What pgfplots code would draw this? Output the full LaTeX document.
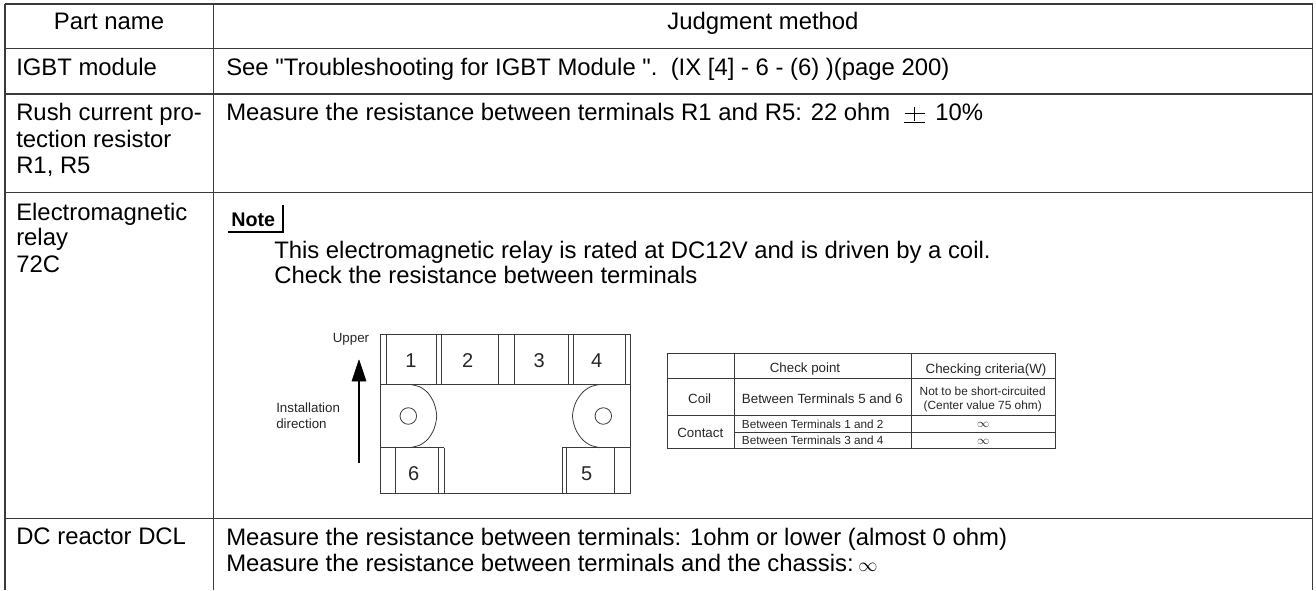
\documentclass[border=0pt]{standalone}
\usepackage{pgfplots}
\pgfplotsset{compat=1.18}
\usepackage{fontspec}
\setmainfont{Liberation Sans}
\newfontfamily\qf{Liberation Sans}
\definecolor{ln}{HTML}{3A3A3A}
\newcommand{\fs}[1]{\fontsize{#1}{#1}\selectfont}
\tikzset{
  txt/.style={anchor=base west,inner sep=0pt,text=black,font=\fs{17.9}},
  dtxt/.style={anchor=base west,inner sep=0pt,text=black!85,font=\fs{10}},
}
\pgfplotsset{
  table line/.style={no markers,draw=ln,line width=1.05pt,forget plot},
  sk/.style={no markers,draw=ln,line width=0.6pt,forget plot},
}
\begin{document}
\begin{tikzpicture}[x=1pt,y=1pt]
\path[use as bounding box] (0,0) rectangle (987pt,442.5pt);
\begin{axis}[
  at={(0,0)},anchor=south west,
  width=987pt,height=442.5pt,scale only axis,
  xmin=0,xmax=1316,ymin=0,ymax=590,y dir=reverse,
  axis lines=none,clip=true,
]
% main grid
\addplot[table line] coordinates {(5,4) (1312.5,4)};
\addplot[table line] coordinates {(5,48.5) (1312.5,48.5)};
\addplot[table line] coordinates {(5,94) (1312.5,94)};
\addplot[table line] coordinates {(5,192.5) (1312.5,192.5)};
\addplot[table line] coordinates {(5,518.5) (1312.5,518.5)};
\addplot[table line] coordinates {(5,4) (5,590)};
\addplot[table line] coordinates {(213.5,4) (213.5,590)};
\addplot[table line] coordinates {(1312.5,4) (1312.5,590)};
% left column
\node[txt,anchor=base] at (axis cs:109,29.3) {Part name};
\node[txt,anchor=base] at (axis cs:763,29.3) {Judgment method};
\node[txt] at (axis cs:16,75) {IGBT module};
\node[txt] at (axis cs:16,120.7) {Rush current pro-};
\node[txt] at (axis cs:16,147.5) {tection resistor};
\node[txt] at (axis cs:16,173.7) {R1, R5};
\node[txt] at (axis cs:16,220) {Electromagnetic};
\node[txt] at (axis cs:16,245.5) {relay};
\node[txt] at (axis cs:16,272) {72C};
\node[txt] at (axis cs:16,544.5) {DC reactor DCL};
% right column
\node[txt] at (axis cs:226,75.5) {See {\qf"}Troubleshooting for IGBT Module {\qf"}.\ \ (IX [4] - 6 - (6) )(page 200)};
\node[txt] at (axis cs:226,120.7) {Measure the resistance between terminals R1 and R5: 22 ohm};
\node[txt] at (axis cs:935,120.7) {10\%};
\addplot[no markers,draw=black,line width=0.8pt,forget plot] coordinates {(904.5,113.3) (925,113.3)};
\addplot[no markers,draw=black,line width=0.8pt,forget plot] coordinates {(914.7,106.5) (914.7,120.5)};
\addplot[no markers,draw=black,line width=0.9pt,forget plot] coordinates {(904,122.7) (925,122.7)};
\node[txt] at (axis cs:274,258.3) {This electromagnetic relay is rated at DC12V and is driven by a coil.};
\node[txt] at (axis cs:274,283.3) {Check the resistance between terminals};
\node[txt] at (axis cs:226,545) {Measure the resistance between terminals: 1ohm or lower (almost 0 ohm)};
\node[txt] at (axis cs:226,571.5) {Measure the resistance between terminals and the chassis:};
\node[txt,font=\fs{14}] at (axis cs:858,571) {$\infty$};
% Note
\node[txt,font=\bfseries\fs{14.8}] at (axis cs:231,226.5) {Note};
\addplot[no markers,draw=black,line width=1.4pt,forget plot] coordinates {(228,232) (283,232) (283,205)};
% relay drawing
\addplot[sk] coordinates {(380,334) (630,334) (630,493.7) (380,493.7) (380,334)};
\addplot[sk] coordinates {(380,384.3) (630,384.3)};
\addplot[sk] coordinates {(380,447.7) (444.3,447.7)};
\addplot[sk] coordinates {(562.3,447.7) (630,447.7)};
\addplot[sk] coordinates {(386,334) (386,384.3)};
\addplot[sk] coordinates {(436.7,334) (436.7,384.3)};
\addplot[sk] coordinates {(441.7,334) (441.7,384.3)};
\addplot[sk] coordinates {(498.3,334) (498.3,384.3)};
\addplot[sk] coordinates {(514.3,334) (514.3,384.3)};
\addplot[sk] coordinates {(568.3,334) (568.3,384.3)};
\addplot[sk] coordinates {(573.3,334) (573.3,384.3)};
\addplot[sk] coordinates {(625.7,334) (625.7,384.3)};
\addplot[sk] coordinates {(395,447.7) (395,493.7)};
\addplot[sk] coordinates {(438.3,447.7) (438.3,493.7)};
\addplot[sk] coordinates {(444.3,447.7) (444.3,493.7)};
\addplot[sk] coordinates {(562.3,447.7) (562.3,493.7)};
\addplot[sk] coordinates {(566.3,447.7) (566.3,493.7)};
\addplot[sk] coordinates {(614.3,447.7) (614.3,493.7)};
\addplot[sk,smooth] coordinates {(410,384.3) (420,387) (428,393) (434,403) (436.7,416) (434,429) (428,439) (420,445) (410,447.7)};
\addplot[sk,smooth] coordinates {(600,384.3) (590,387) (582,393) (575.5,403) (572.5,416) (575.5,429) (582,439) (590,445) (600,447.7)};
\draw[ln,line width=0.6pt] (axis cs:408.3,416) circle[radius=6.2pt];
\draw[ln,line width=0.6pt] (axis cs:603.3,416) circle[radius=6.2pt];
\addplot[no markers,draw=black,line width=0.8pt,forget plot] coordinates {(359,463) (359,378)};
\addplot[no markers,draw=black,fill=black,forget plot] coordinates {(359,360) (366,381) (352,381) (359,360)};
\node[dtxt,anchor=base] at (axis cs:351,342) {Upper};
\node[dtxt] at (axis cs:276,412) {Installation};
\node[dtxt] at (axis cs:276,428) {direction};
\node[dtxt,anchor=base,font=\fs{15}] at (axis cs:411,367) {1};
\node[dtxt,anchor=base,font=\fs{15}] at (axis cs:467.7,367) {2};
\node[dtxt,anchor=base,font=\fs{15}] at (axis cs:539.3,367) {3};
\node[dtxt,anchor=base,font=\fs{15}] at (axis cs:596.7,367) {4};
\node[dtxt,anchor=base,font=\fs{15}] at (axis cs:413.7,480) {6};
\node[dtxt,anchor=base,font=\fs{15}] at (axis cs:586.7,480) {5};
% small table
\addplot[sk] coordinates {(667.7,353.3) (1055,353.3)};
\addplot[sk] coordinates {(667.7,378.3) (1055,378.3)};
\addplot[sk] coordinates {(667.7,415) (1055,415)};
\addplot[sk] coordinates {(734.3,432) (1055,432)};
\addplot[sk] coordinates {(667.7,448.7) (1055,448.7)};
\addplot[sk] coordinates {(667.7,353.3) (667.7,448.7)};
\addplot[sk] coordinates {(734.3,353.3) (734.3,448.7)};
\addplot[sk] coordinates {(911,353.3) (911,448.7)};
\addplot[sk] coordinates {(1055,353.3) (1055,448.7)};
\node[dtxt,anchor=base] at (axis cs:805,372.5) {Check point};
\node[dtxt,anchor=base] at (axis cs:986,373.5) {Checking criteria(W)};
\node[dtxt,anchor=base] at (axis cs:699.7,403.3) {Coil};
\node[dtxt] at (axis cs:741.7,403.3) {Between Terminals 5 and 6};
\node[dtxt,anchor=base,font=\fs{8.9}] at (axis cs:982.7,395) {Not to be short-circuited};
\node[dtxt,anchor=base,font=\fs{8.9}] at (axis cs:982.7,409) {(Center value 75 ohm)};
\node[dtxt,anchor=base] at (axis cs:700.3,437.5) {Contact};
\node[dtxt,font=\fs{8.8}] at (axis cs:741.7,428.3) {Between Terminals 1 and 2};
\node[dtxt,font=\fs{8.8}] at (axis cs:741.7,444) {Between Terminals 3 and 4};
\node[dtxt,anchor=base,font=\fs{9}] at (axis cs:983.3,427) {$\infty$};
\node[dtxt,anchor=base,font=\fs{9}] at (axis cs:983.3,444.5) {$\infty$};
\end{axis}
\end{tikzpicture}
\end{document}
